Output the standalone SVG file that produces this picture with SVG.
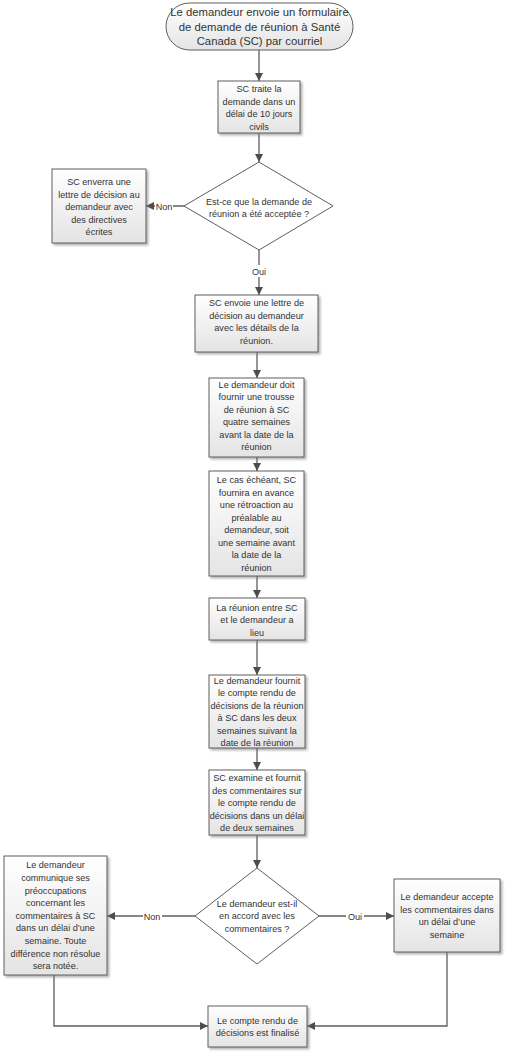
<svg xmlns="http://www.w3.org/2000/svg" width="505" height="1052" viewBox="0 0 505 1052">
<defs>
<linearGradient id="g" x1="0" y1="0" x2="0" y2="1">
<stop offset="0" stop-color="#ffffff"/>
<stop offset="1" stop-color="#e4e4e4"/>
</linearGradient>
<filter id="sh" x="-10%" y="-10%" width="130%" height="130%">
<feDropShadow dx="2" dy="2" stdDeviation="0.8" flood-color="#7a7a7a" flood-opacity="0.55"/>
</filter>
<marker id="ah" viewBox="0 0 10 10" refX="10" refY="5" markerWidth="8" markerHeight="8" markerUnits="userSpaceOnUse" orient="auto">
<path d="M0,0 L10,5 L0,10 z" fill="#4d4d4d"/>
</marker>
</defs>
<style>
.box{fill:url(#g);stroke:#5e5e5e;stroke-width:1;filter:url(#sh)}
.dia{fill:#ffffff;stroke:#5e5e5e;stroke-width:1}
.t{font-family:"Liberation Sans",Arial,sans-serif;font-size:9.1px;fill:#333333;text-anchor:middle}
.tl{font-family:"Liberation Sans",Arial,sans-serif;font-size:11.3px;fill:#333333;text-anchor:middle}
.ln{fill:none;stroke:#5e5e5e;stroke-width:1.3}
.lb{fill:#ffffff}
</style>
<rect width="505" height="1052" fill="#ffffff"/>
<g id="connectors">
<path class="ln" d="M259,50 V81" marker-end="url(#ah)"/>
<path class="ln" d="M259,133 V162" marker-end="url(#ah)"/>
<path class="ln" d="M184,206 H146" marker-end="url(#ah)"/>
<path class="ln" d="M259,250 V295" marker-end="url(#ah)"/>
<path class="ln" d="M257,352 V378" marker-end="url(#ah)"/>
<path class="ln" d="M257,457 V471" marker-end="url(#ah)"/>
<path class="ln" d="M257,576 V598" marker-end="url(#ah)"/>
<path class="ln" d="M257,640 V675" marker-end="url(#ah)"/>
<path class="ln" d="M257,748 V770" marker-end="url(#ah)"/>
<path class="ln" d="M257,835 V868" marker-end="url(#ah)"/>
<path class="ln" d="M195,916 H107" marker-end="url(#ah)"/>
<path class="ln" d="M319,916 H394" marker-end="url(#ah)"/>
<path class="ln" d="M54,975 V1026 H208" marker-end="url(#ah)"/>
<path class="ln" d="M447,952 V1026 H307" marker-end="url(#ah)"/>
<rect class="lb" x="155" y="200" width="18" height="12"/>
<text class="t" x="164" y="210">Non</text>
<rect class="lb" x="250" y="265" width="18" height="12"/>
<text class="t" x="259" y="275">Oui</text>
<rect class="lb" x="143" y="910" width="19" height="12"/>
<text class="t" x="152" y="919.5">Non</text>
<rect class="lb" x="346" y="910" width="18" height="12"/>
<text class="t" x="355" y="919.5">Oui</text>
</g>
<g id="start">
<rect x="166" y="3" width="187" height="47" rx="23.5" fill="url(#g)" stroke="#5e5e5e" stroke-width="1"/>
<text class="tl" x="259.5" y="16">Le demandeur envoie un formulaire</text>
<text class="tl" x="259.5" y="30.5">de demande de réunion à Santé</text>
<text class="tl" x="259.5" y="45">Canada (SC) par courriel</text>
</g>
<g id="traite">
<rect class="box" x="218" y="81" width="82" height="52"/>
<text class="t" x="259" y="92">SC traite la</text>
<text class="t" x="259" y="104.5">demande dans un</text>
<text class="t" x="259" y="117">délai de 10 jours</text>
<text class="t" x="259" y="129.5">civils</text>
</g>
<g id="decision1">
<polygon class="dia" points="259,162 333,206 259,250 184,206"/>
<text class="t" x="259" y="205">Est-ce que la demande de</text>
<text class="t" x="259" y="217">réunion a été acceptée ?</text>
</g>
<g id="refus">
<rect class="box" x="52" y="169" width="94" height="74"/>
<text class="t" x="99" y="185.3">SC enverra une</text>
<text class="t" x="99" y="197.8">lettre de décision au</text>
<text class="t" x="99" y="210.3">demandeur avec</text>
<text class="t" x="99" y="222.8">des directives</text>
<text class="t" x="99" y="235.3">écrites</text>
</g>
<g id="lettre">
<rect class="box" x="195" y="295" width="123" height="57"/>
<text class="t" x="256.5" y="306">SC envoie une lettre de</text>
<text class="t" x="256.5" y="318.5">décision au demandeur</text>
<text class="t" x="256.5" y="331">avec les détails de la</text>
<text class="t" x="256.5" y="343.5">réunion.</text>
</g>
<g id="trousse">
<rect class="box" x="209" y="378" width="95" height="79"/>
<text class="t" x="256.5" y="387.5">Le demandeur doit</text>
<text class="t" x="256.5" y="400">fournir une trousse</text>
<text class="t" x="256.5" y="412.5">de réunion à SC</text>
<text class="t" x="256.5" y="425">quatre semaines</text>
<text class="t" x="256.5" y="437.5">avant la date de la</text>
<text class="t" x="256.5" y="450">réunion</text>
</g>
<g id="retroaction">
<rect class="box" x="209" y="471" width="95" height="105"/>
<text class="t" x="256.5" y="483.3">Le cas échéant, SC</text>
<text class="t" x="256.5" y="495.8">fournira en avance</text>
<text class="t" x="256.5" y="508.3">une rétroaction au</text>
<text class="t" x="256.5" y="520.8">préalable au</text>
<text class="t" x="256.5" y="533.3">demandeur, soit</text>
<text class="t" x="256.5" y="545.8">une semaine avant</text>
<text class="t" x="256.5" y="558.3">la date de la</text>
<text class="t" x="256.5" y="570.8">réunion</text>
</g>
<g id="reunion">
<rect class="box" x="209" y="598" width="96" height="42"/>
<text class="t" x="257" y="610.8">La réunion entre SC</text>
<text class="t" x="257" y="623.3">et le demandeur a</text>
<text class="t" x="257" y="635.8">lieu</text>
</g>
<g id="compte-rendu">
<rect class="box" x="209" y="675" width="96" height="73"/>
<text class="t" x="257" y="683.5">Le demandeur fournit</text>
<text class="t" x="257" y="696">le compte rendu de</text>
<text class="t" x="257" y="708.5">décisions de la réunion</text>
<text class="t" x="257" y="721">à SC dans les deux</text>
<text class="t" x="257" y="733.5">semaines suivant la</text>
<text class="t" x="257" y="746">date de la réunion</text>
</g>
<g id="examen">
<rect class="box" x="209" y="770" width="96" height="65"/>
<text class="t" x="257" y="781">SC examine et fournit</text>
<text class="t" x="257" y="793.5">des commentaires sur</text>
<text class="t" x="257" y="806">le compte rendu de</text>
<text class="t" x="257" y="818.5">décisions dans un délai</text>
<text class="t" x="257" y="831">de deux semaines</text>
</g>
<g id="decision2">
<polygon class="dia" points="257,868 319,916 257,964 195,916"/>
<text class="t" x="257" y="906.8">Le demandeur est-il</text>
<text class="t" x="257" y="919.3">en accord avec les</text>
<text class="t" x="257" y="931.8">commentaires ?</text>
</g>
<g id="desaccord">
<rect class="box" x="4" y="856" width="103" height="119"/>
<text class="t" x="55.5" y="868.3">Le demandeur</text>
<text class="t" x="55.5" y="880.9">communique ses</text>
<text class="t" x="55.5" y="893.5">préoccupations</text>
<text class="t" x="55.5" y="906.1">concernant les</text>
<text class="t" x="55.5" y="918.7">commentaires à SC</text>
<text class="t" x="55.5" y="931.3">dans un délai d’une</text>
<text class="t" x="55.5" y="943.9">semaine. Toute</text>
<text class="t" x="55.5" y="956.5">différence non résolue</text>
<text class="t" x="55.5" y="969.1">sera notée.</text>
</g>
<g id="accord">
<rect class="box" x="394" y="879" width="106" height="73"/>
<text class="t" x="447" y="900.3">Le demandeur accepte</text>
<text class="t" x="447" y="912.8">les commentaires dans</text>
<text class="t" x="447" y="925.3">un délai d’une</text>
<text class="t" x="447" y="937.8">semaine</text>
</g>
<g id="finalise">
<rect class="box" x="208" y="1006" width="99" height="41"/>
<text class="t" x="257.5" y="1023.8">Le compte rendu de</text>
<text class="t" x="257.5" y="1036.3">décisions est finalisé</text>
</g>
</svg>
